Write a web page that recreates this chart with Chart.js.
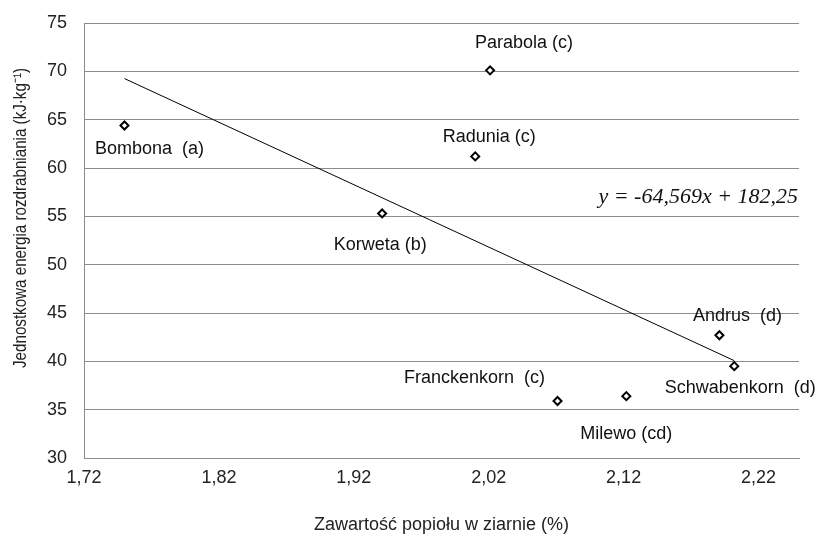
<!DOCTYPE html>
<html>
<head>
<meta charset="utf-8">
<script src="https://cdn.jsdelivr.net/npm/chart.js@4"></script>
<style>
  body { margin: 0; background: #fff; }
  #wrap { width: 822px; height: 536px; }
</style>
</head>
<body>
<div id="wrap"><canvas id="myChart" width="822" height="536"></canvas></div>
<script>
// odmiany i wartosci
var varieties = ["Bombona  (a)", "Parabola (c)", "Radunia (c)", "Korweta (b)",
                 "Andrus  (d)", "Schwabenkorn  (d)", "Franckenkorn  (c)", "Milewo (cd)"]
var ash = [1.750, 2.021, 2.010, 1.941, 2.191, 2.202, 2.071, 2.122]
var energy = [64.4, 70.1, 61.2, 55.3, 42.7, 39.5, 35.9, 36.4]

// linia trendu y = -64,569x + 182,25 (koncowki)
var trendX = [1.750, 2.202]
var trendY = [69.25, 40.07]
var equation = "y = -64,569x + 182,25"

var xTicks = [1.72, 1.82, 1.92, 2.02, 2.12, 2.22]
var yTicks = [30, 35, 40, 45, 50, 55, 60, 65, 70, 75]

var yTitle = 'Jednostkowa energia rozdrabniania (kJ·kg⁻¹)'
var xTitle = 'Zawartość popiołu w ziarnie (%)'

// przesuniecia etykiet wzgledem punktow (px)
var labelOffsets = [[25, 24], [34, -27], [14, -19], [-2, 32],
                    [18, -19], [6, 22], [-83, -23], [0, 38]]

var points = []
var each = function(arr, fn){ for (var i = 0; i < arr.length; i++) fn(i, arr[i]) }
each(ash, function(i, v){ points.push({x: v, y: energy[i]}) })
var trend = []
each(trendX, function(i, v){ trend.push({x: v, y: trendY[i]}) })

var sans = '"Liberation Sans", Arial, sans-serif'

var labelPlugin = {
    id: 'pointLabels',
    afterDatasetsDraw: function(chart){
        var ctx = chart.ctx
        var meta = chart.getDatasetMeta(1)
        ctx.save()
        ctx.font = '18px ' + sans
        ctx.fillStyle = '#111'
        ctx.textAlign = 'center'
        ctx.textBaseline = 'middle'
        each(meta.data, function(i, pt){
            ctx.fillText(varieties[i], pt.x + labelOffsets[i][0], pt.y + labelOffsets[i][1])
        })
        ctx.font = 'italic 22px "Liberation Serif", "Times New Roman", serif'
        ctx.textAlign = 'right'
        ctx.fillText(equation, chart.chartArea.right - 1, 197)

        // tytul osi Y (w oryginale zwezony)
        ctx.translate(21, 218)
        ctx.rotate(-Math.PI / 2)
        ctx.font = '18px ' + sans
        ctx.textAlign = 'center'
        var w = ctx.measureText(yTitle).width
        ctx.scale(300 / w, 1)
        ctx.fillStyle = '#222'
        ctx.fillText(yTitle, 0, 0)
        ctx.restore()
    }
}

var gray = '#8c8c8c'
var myChart = document.getElementById("myChart").getContext('2d')

var chart = new Chart(myChart, {
    type: 'scatter',
    data: {
        datasets: [
            {
                label: 'trend',
                data: trend,
                showLine: true,
                borderColor: '#000',
                borderWidth: 1,
                pointRadius: 0,
                fill: false
            },
            {
                label: 'odmiany',
                data: points,
                pointStyle: 'rectRot',
                pointRadius: 4,
                pointBorderWidth: 2,
                borderColor: '#000',
                backgroundColor: '#fff'
            }
        ]
    },
    plugins: [labelPlugin],
    options: {
        responsive: false,
        animation: false,
        layout: { padding: { top: 23, right: 23, left: 0, bottom: 0 } },
        plugins: { legend: { display: false }, tooltip: { enabled: false } },
        scales: {
            x: {
                type: 'linear',
                min: 1.72,
                max: 2.25,
                afterBuildTicks: function(scale){
                    scale.ticks = xTicks.map(function(v){ return {value: v} })
                },
                afterFit: function(scale){
                    scale.height = 78
                    scale.paddingLeft = 0
                    scale.paddingRight = 0
                },
                grid: { display: false, drawTicks: false },
                border: { display: true, color: gray, width: 1 },
                ticks: {
                    padding: 9,
                    color: '#222',
                    font: { family: sans, size: 18 },
                    callback: function(v){ return v.toFixed(2).replace('.', ',') }
                },
                title: {
                    display: true,
                    text: xTitle,
                    color: '#222',
                    padding: { top: 0, bottom: 0 },
                    font: { family: sans, size: 18 }
                }
            },
            y: {
                min: 30,
                max: 75,
                afterBuildTicks: function(scale){
                    scale.ticks = yTicks.map(function(v){ return {value: v} })
                },
                afterFit: function(scale){
                    scale.width = 84
                    scale.paddingTop = 0
                    scale.paddingBottom = 0
                },
                grid: { color: gray, lineWidth: 1, drawTicks: false },
                border: { display: true, color: gray, width: 1 },
                ticks: {
                    padding: 17,
                    color: '#222',
                    font: { family: sans, size: 18 }
                },
                title: { display: false }
            }
        }
    }
})
</script>
</body>
</html>
